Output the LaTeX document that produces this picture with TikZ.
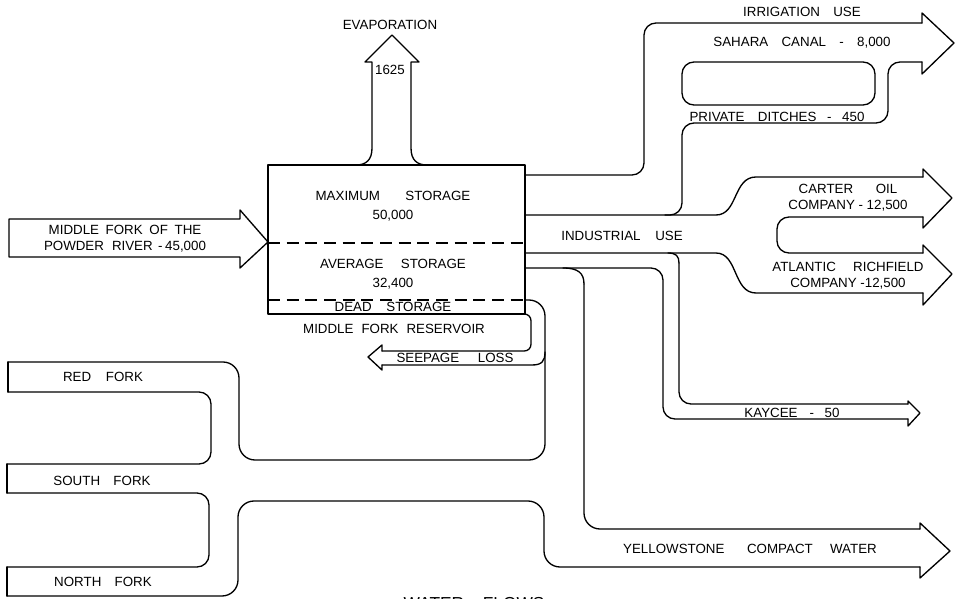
\documentclass[tikz,border=0pt]{standalone}
\usepackage{fontspec}
\setmainfont{Liberation Sans}
\begin{document}
\begin{tikzpicture}[x=0.75pt,y=-0.75pt,
  flow/.style={line width=1pt, line join=round, line cap=round},
  rc/.style={flow, rounded corners=9pt},
  rcb/.style={flow, rounded corners=12pt},
  dashline/.style={line width=0.9pt, dash pattern=on 9pt off 5pt},
  lbl/.style={inner sep=0pt, align=center, font=\fontsize{10}{12}\selectfont},
  lbls/.style={lbl, font=\fontsize{10}{14.2}\selectfont}]
\clip (0,0) rectangle (958,599);
\fill[white] (0,0) rectangle (958,599);

% reservoir
\node[flow, draw, minimum width=192.75pt, minimum height=111.75pt, inner sep=0pt] (res) at (396.5,239.5) {};
\draw[dashline] (268,243) -- (525,243);
\draw[dashline] (268,300) -- (525,300);
\node[lbls] (maxs) at (393,206.5) {MAXIMUM\hspace{19pt}STORAGE\\50,000};
\node[lbls] (avgs) at (393,274.5) {AVERAGE\hspace{13pt}STORAGE\\32,400};
\node[lbl] (dead) at (393,307) {DEAD\hspace{11pt}STORAGE};
\node[lbl] (resname) at (394,329) {MIDDLE\hspace{6pt}FORK\hspace{6pt}RESERVOIR};

% evaporation
\draw[flow] (356,165) .. controls (366,165) and (372,160) .. (372,148) -- (372,62) -- (365,62) -- (392,35) -- (419,62) -- (411,62) -- (411,148) .. controls (411,160) and (417,165) .. (427,165);
\node[lbl] (evap) at (390,25) {EVAPORATION};
\node[lbl] (evapv) at (390,70) {1625};

% inflow
\draw[flow] (268,242) -- (240,210) -- (240,219) -- (9,219) -- (9,257) -- (240,257) -- (240,268) -- cycle;
\node[lbl] (inflow) at (125,239) {MIDDLE\hspace{5pt}FORK\hspace{5pt}OF\hspace{5pt}THE\\POWDER\hspace{6pt}RIVER\hspace{4pt}-\hspace{2pt}45,000};

% irrigation
\draw[rc] (525,175) -- (644,175) -- (644,23) -- (922,23);
\draw[flow] (922,23) -- (922,13) -- (954,43) -- (922,74) -- (922,62);
\draw[rc] (922,62) -- (888,62) -- (888,123) -- (682,123) -- (682,215) -- (665,215);
\draw[rc] (682,62) rectangle (875,105);
\node[lbl] (irr) at (802,12) {IRRIGATION\hspace{10pt}USE};
\node[lbl] (sahara) at (802,43) {SAHARA\hspace{10pt}CANAL\hspace{10pt}-\hspace{10pt}8,000};
\node[lbl] (ditch) at (777,117) {PRIVATE\hspace{10pt}DITCHES\hspace{8pt}-\hspace{8pt}450};

% industrial
\draw[flow] (525,215) -- (716,215) .. controls (738,215) and (733,177) .. (756,177) -- (923,177);
\draw[flow] (923,177) -- (923,169) -- (952,198) -- (923,228) -- (923,217);
\draw[rc] (923,217) -- (777,217) -- (777,253) -- (923,253);
\draw[flow] (923,253) -- (923,245) -- (952,274) -- (923,305) -- (923,293);
\draw[flow] (923,293) -- (756,293) .. controls (733,293) and (738,253) .. (716,253) -- (525,253);
\node[lbl] (ind) at (622,236) {INDUSTRIAL\hspace{11pt}USE};
\node[lbl] (carter) at (848,198) {CARTER\hspace{17pt}OIL\\COMPANY - 12,500};
\node[lbl] (atl) at (848,276) {ATLANTIC\hspace{13pt}RICHFIELD\\COMPANY -12,500};

% kaycee
\draw[flow] (668,253) .. controls (676,253) and (679,256) .. (679,263);
\draw[rc] (679,263) -- (679,404) -- (908,404);
\draw[flow] (908,404) -- (908,401) -- (920,413) -- (908,426) -- (908,419);
\draw[rc] (908,419) -- (663,419) -- (663,268) -- (525,268);
\node[lbl] (kaycee) at (792,413) {KAYCEE\hspace{9pt}-\hspace{8pt}50};

% yellowstone and forks
\draw[flow] (563,268) .. controls (578,268) and (584,273) .. (584,284);
\draw[rcb] (584,284) -- (584,529) -- (920,529);
\draw[flow] (920,529) -- (920,523) -- (950,551) -- (920,578) -- (920,567);
\draw[rcb] (920,567) -- (544,567) -- (544,501) -- (238,501) -- (238,596) -- (7,596);
\draw[flow] (7,596) -- (7,567);
\draw[rc] (7,567) -- (209,567) -- (209,493) -- (7,493);
\draw[flow] (7,493) -- (7,464);
\draw[rc] (7,464) -- (211,464) -- (211,392) -- (8,392);
\draw[flow] (8,392) -- (8,362);
\draw[rcb] (8,362) -- (239,362) -- (239,460) -- (545,460) -- (545,300) -- (525,300);
\node[lbl] (yell) at (750,549) {YELLOWSTONE\hspace{17pt}COMPACT\hspace{13pt}WATER};
\node[lbl] (red) at (103,377) {RED\hspace{11pt}FORK};
\node[lbl] (south) at (102,481) {SOUTH\hspace{10pt}FORK};
\node[lbl] (north) at (103,582) {NORTH\hspace{10pt}FORK};

% seepage
\draw[flow, rounded corners=5pt] (518,314) -- (531,314) -- (531,351) -- (382,351);
\draw[flow] (382,351) -- (382,345) -- (368,357) -- (382,370) -- (382,365);
\draw[flow] (382,365) -- (532,365) .. controls (542,365) and (545,361) .. (545,352);
\node[lbl] (seep) at (455,358) {SEEPAGE\hspace{14pt}LOSS};

% caption (cut off at bottom edge)
\node[lbl, font=\fontsize{13}{15}\selectfont, anchor=north] (cap) at (474,597) {WATER\hspace{14pt}FLOWS};
\end{tikzpicture}
\end{document}
